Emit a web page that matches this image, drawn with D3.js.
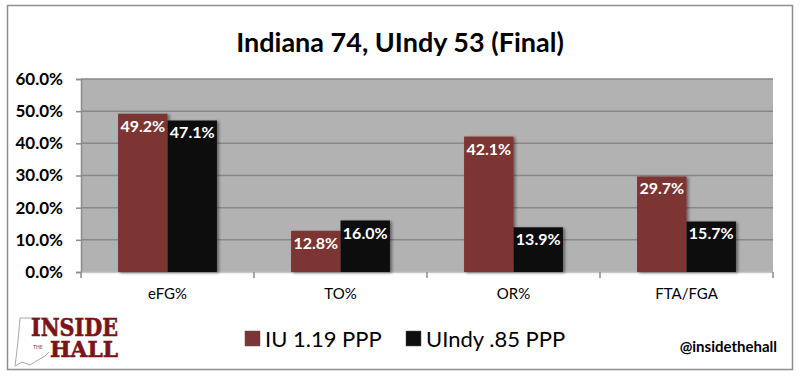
<!DOCTYPE html>
<html>
<head>
<meta charset="utf-8">
<script src="https://cdn.jsdelivr.net/npm/d3@7"></script>
<style>
  body { margin: 0; background: #fff; }
</style>
</head>
<body>
<script>
var width = 800,
    height = 377;

var categories = ["eFG%", "TO%", "OR%", "FTA/FGA"];
var seriesNames = ["IU 1.19 PPP", "UIndy .85 PPP"];
var iuValues = [49.2, 12.8, 42.1, 29.7];
var uindyValues = [47.1, 16.0, 13.9, 15.7];
var yTicks = [0, 10, 20, 30, 40, 50, 60];
var colors = ["#7b3533", "#0e0e0e"];

var margin = {top: 79, right: 27, bottom: 105, left: 81};

var svg = d3.select("body")
    .append("svg")
    .attr("width", width)
    .attr("height", height)
    .attr("font-family", "Lato, 'Open Sans', sans-serif");

var defs = svg.append("defs");
var filter = defs.append("filter")
    .attr("id", "shadow")
    .attr("x", "-10%").attr("y", "-10%")
    .attr("width", "130%").attr("height", "130%");
filter.append("feDropShadow")
    .attr("dx", 2).attr("dy", 1)
    .attr("stdDeviation", 1.5)
    .attr("flood-color", "#000")
    .attr("flood-opacity", 0.45);

// outer frame
svg.append("rect")
    .attr("x", 7.5).attr("y", 5.5)
    .attr("width", 785).attr("height", 364)
    .attr("fill", "#fff")
    .attr("stroke", "#8f8f8f")
    .attr("stroke-width", 1.5);

// title
svg.append("text")
    .attr("x", 400).attr("y", 52)
    .attr("text-anchor", "middle")
    .attr("font-size", 27)
    .attr("font-weight", "bold")
    .attr("fill", "#000")
    .text("Indiana 74, UIndy 53 (Final)");

var x0 = d3.scaleBand()
    .domain(categories)
    .range([margin.left, width - margin.right]);

var x1 = d3.scaleBand()
    .domain([0, 1])
    .range([0, x0.bandwidth()])
    .paddingOuter(0.75)
    .paddingInner(0);

var yScale = d3.scaleLinear()
    .domain([0, 60])
    .range([height - margin.bottom, margin.top]);

// plot background
svg.append("rect")
    .attr("x", margin.left)
    .attr("y", margin.top)
    .attr("width", width - margin.left - margin.right)
    .attr("height", yScale(0) - margin.top)
    .attr("fill", "#b2b2b2");

// gridlines
svg.append("g")
    .selectAll("line")
    .data(yTicks.slice(1))
    .enter()
    .append("line")
    .attr("x1", margin.left)
    .attr("x2", width - margin.right)
    .attr("y1", function(d) { return yScale(d); })
    .attr("y2", function(d) { return yScale(d); })
    .attr("stroke", "#878787")
    .attr("stroke-width", 1.5);

// y axis
var yAxis = d3.axisLeft(yScale)
    .tickValues(yTicks)
    .tickSize(5)
    .tickPadding(13)
    .tickFormat(function(d) { return d3.format(".1f")(d) + "%"; });

var gy = svg.append("g")
    .attr("transform", "translate(" + margin.left + ",0)")
    .call(yAxis);
gy.select(".domain").attr("stroke", "#8c8c8c").attr("stroke-width", 1.5);
gy.selectAll(".tick line").attr("stroke", "#8c8c8c").attr("stroke-width", 1.5);
gy.selectAll(".tick text")
    .attr("font-size", 17)
    .attr("font-weight", "bold")
    .attr("fill", "#000")
    .attr("font-family", "Lato, sans-serif");

// x axis
var xAxis = d3.axisBottom(x0)
    .tickSize(0)
    .tickPadding(16);

var gx = svg.append("g")
    .attr("transform", "translate(0," + yScale(0) + ")")
    .call(xAxis);
gx.select(".domain").attr("stroke", "#c8c8c8").attr("stroke-width", 1.5);
gx.selectAll(".tick text")
    .attr("font-size", 15)
    .attr("fill", "#000")
    .attr("font-family", "Lato, sans-serif");

// category boundary ticks
svg.append("g")
    .selectAll("line")
    .data(d3.range(categories.length + 1))
    .enter()
    .append("line")
    .attr("x1", function(i) { return margin.left + i * x0.step(); })
    .attr("x2", function(i) { return margin.left + i * x0.step(); })
    .attr("y1", yScale(0))
    .attr("y2", yScale(0) + 6)
    .attr("stroke", "#8c8c8c")
    .attr("stroke-width", 1.5);

// bars
var rows = categories.map(function(c, i) {
    return {cat: c, vals: [iuValues[i], uindyValues[i]]};
});

var groups = svg.selectAll(".group")
    .data(rows)
    .enter()
    .append("g")
    .attr("class", "group")
    .attr("transform", function(d) { return "translate(" + x0(d.cat) + ",0)"; });

groups.selectAll("rect")
    .data(function(d) { return d.vals; })
    .enter()
    .append("rect")
    .attr("x", function(d, i) { return x1(i); })
    .attr("y", function(d) { return yScale(d); })
    .attr("width", x1.bandwidth())
    .attr("height", function(d) { return yScale(0) - yScale(d); })
    .attr("fill", function(d, i) { return colors[i]; })
    .attr("filter", "url(#shadow)");

groups.selectAll("text")
    .data(function(d) { return d.vals; })
    .enter()
    .append("text")
    .attr("x", function(d, i) { return x1(i) + x1.bandwidth() / 2; })
    .attr("y", function(d) { return yScale(d) + 18; })
    .attr("text-anchor", "middle")
    .attr("font-size", 16)
    .attr("font-weight", "bold")
    .attr("fill", "#fff")
    .text(function(d) { return d.toFixed(1) + "%"; });

// legend
var legendX = [245, 406];
var legend = svg.selectAll(".legend")
    .data(seriesNames)
    .enter()
    .append("g")
    .attr("class", "legend")
    .attr("transform", function(d, i) { return "translate(" + legendX[i] + ",331)"; });

legend.append("rect")
    .attr("width", 15)
    .attr("height", 15)
    .attr("fill", function(d, i) { return colors[i]; })
    .attr("stroke", "#555")
    .attr("stroke-width", 0.5);

legend.append("text")
    .attr("x", 20)
    .attr("y", 16)
    .attr("font-size", 22)
    .attr("fill", "#000")
    .text(function(d) { return d; });

// handle
svg.append("text")
    .attr("x", 777)
    .attr("y", 352)
    .attr("text-anchor", "end")
    .attr("font-size", 15)
    .attr("font-weight", "bold")
    .attr("fill", "#000")
    .text("@insidethehall");

// logo
var logo = svg.append("g");
logo.append("path")
    .attr("d", "M20,318 L48,318 L48,330 M20,318 L19,330 L17,350 L15,366 L22,362 L30,365 L38,360 L45,356 L49,352")
    .attr("fill", "none")
    .attr("stroke", "#a8a8a8")
    .attr("stroke-width", 1);
logo.append("text")
    .attr("x", 31).attr("y", 336)
    .attr("font-family", "'DejaVu Serif', serif")
    .attr("font-size", 24)
    .attr("font-weight", "bold")
    .attr("textLength", 87)
    .attr("lengthAdjust", "spacingAndGlyphs")
    .attr("fill", "#7a1418")
    .attr("stroke", "#7a1418")
    .attr("stroke-width", 0.6)
    .text("INSIDE");
logo.append("text")
    .attr("x", 33).attr("y", 349)
    .attr("font-size", 5)
    .attr("font-weight", "bold")
    .attr("fill", "#777")
    .text("THE");
logo.append("text")
    .attr("x", 50).attr("y", 357)
    .attr("font-family", "'DejaVu Serif', serif")
    .attr("font-size", 22)
    .attr("font-weight", "bold")
    .attr("textLength", 68)
    .attr("lengthAdjust", "spacingAndGlyphs")
    .attr("fill", "#7a1418")
    .attr("stroke", "#7a1418")
    .attr("stroke-width", 0.6)
    .text("HALL");
</script>
</body>
</html>
